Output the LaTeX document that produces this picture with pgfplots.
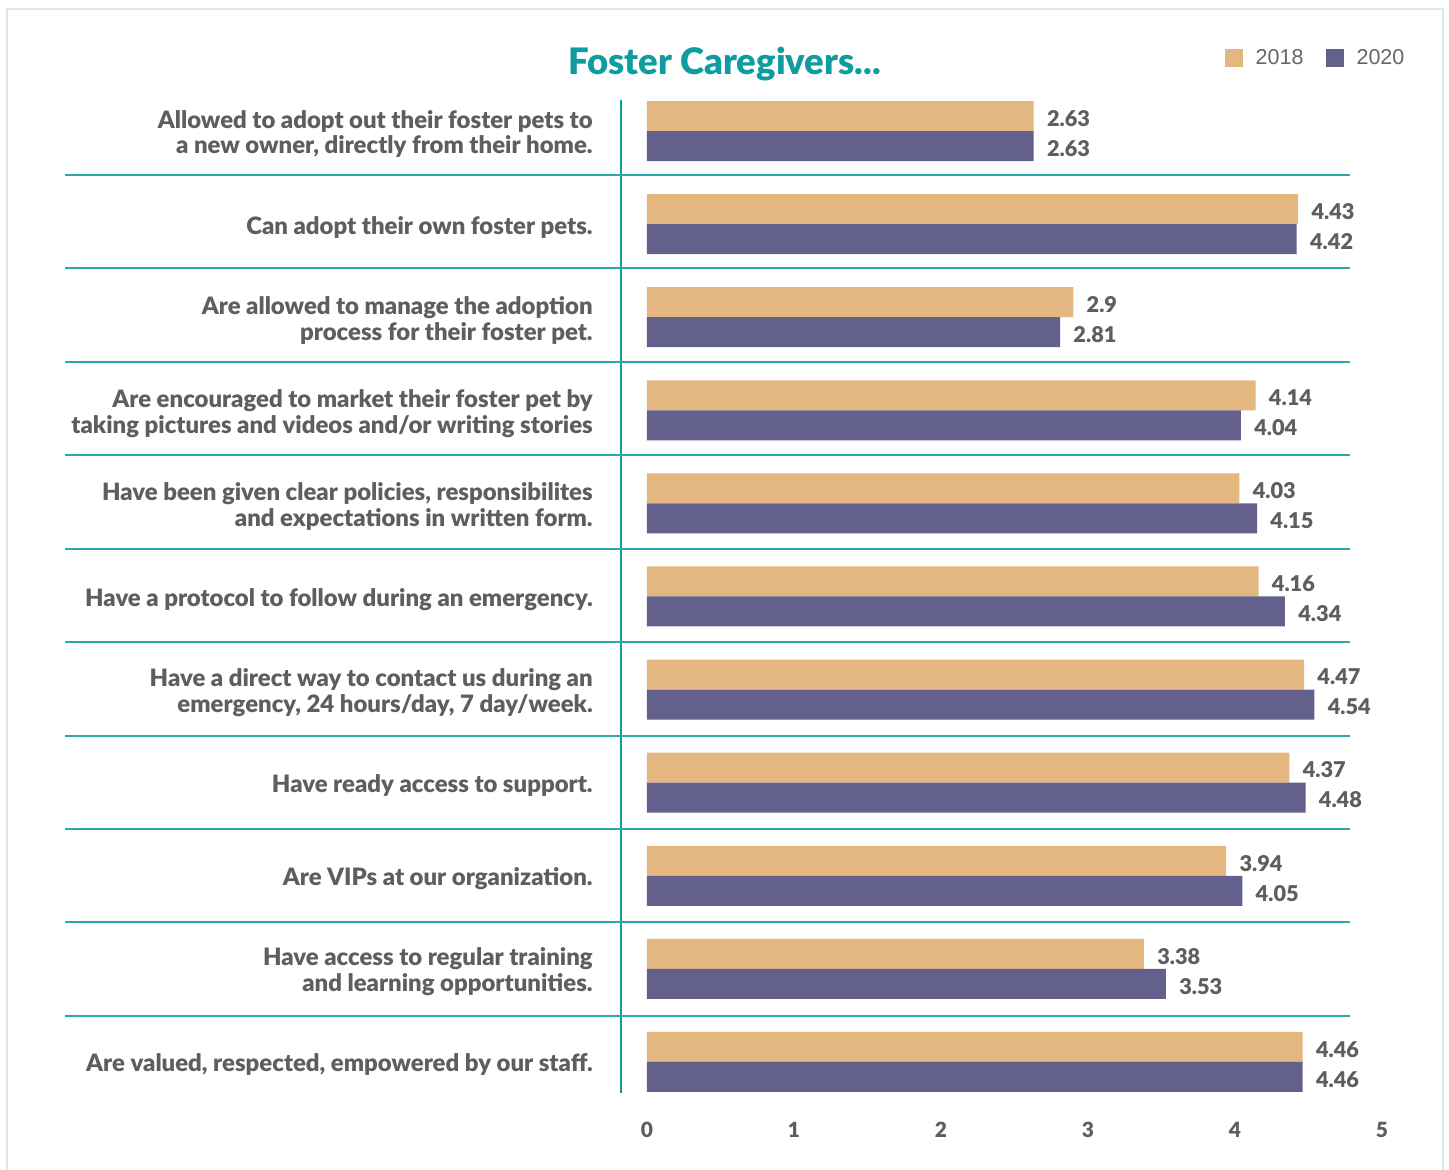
\documentclass[border=0pt]{standalone}
\usepackage{pgfplots}
\pgfplotsset{compat=1.18}
\usepackage{fontspec}
\setmainfont{Lato}[BoldFont={Lato Black}]
\newfontfamily\legfont{Liberation Sans}
\definecolor{tan18}{HTML}{E3B77F}
\definecolor{pur20}{HTML}{63608D}
\definecolor{teal1}{HTML}{0E9CA0}
\definecolor{sepc}{HTML}{2AA8AC}
\definecolor{txt}{HTML}{5C5E60}
\begin{document}
\begin{tikzpicture}
\useasboundingbox (-310.5bp,-38.5bp) rectangle (414bp,546.5bp);
\draw[black!10, line width=0.8bp] (-307bp,-45bp) rectangle (411bp,542bp);
\begin{axis}[
  at={(0,0)}, anchor=south west,
  scale only axis, width=380.5bp, height=496.5bp,
  xmin=-0.1769, xmax=5, ymin=0.6667, ymax=11.3333,
  xbar, bar width=15bp,
  axis line style={draw=none}, major tick length=0pt,
  xtick={0,1,2,3,4,5}, ytick={1,2,3,4,5,6,7,8,9,10,11},
  /pgf/number format/assume math mode=true,
  xticklabel style={font=\fontsize{10.5}{12}\selectfont\bfseries, text=txt, anchor=center, yshift=-18.5bp},
  yticklabel style={font=\fontsize{12}{13}\selectfont\bfseries, text=txt, align=right, anchor=east, inner sep=0pt, xshift=-14bp, yshift=-1.5bp},
  yticklabels={
    {Are valued, respected, empowered by our staff.},
    {Have access to regular training\\and learning opportunities.},
    {Are VIPs at our organization.},
    {Have ready access to support.},
    {Have a direct way to contact us during an\\emergency, 24 hours/day, 7 day/week.},
    {Have a protocol to follow during an emergency.},
    {Have been given clear policies, responsibilites\\and expectations in written form.},
    {Are encouraged to market their foster pet by\\taking pictures and videos and/or writing stories},
    {Are allowed to manage the adoption\\process for their foster pet.},
    {Can adopt their own foster pets.},
    {Allowed to adopt out their foster pets to\\a new owner, directly from their home.}
  },
  nodes near coords,
  nodes near coords style={font=\fontsize{10.9}{12}\selectfont\bfseries, text=txt, anchor=west, inner sep=0pt, xshift=6.5bp, yshift=-1.2bp},
  clip=false,
  legend columns=2,
  legend style={at={(0.914,1.042)}, anchor=center, draw=none, fill=none,
    font=\legfont\fontsize{10.8}{12}\selectfont, text=black!60,
    /tikz/every odd column/.append style={column sep=4.5bp},
    /tikz/every even column/.append style={column sep=9bp}},
  legend image code/.code={\fill[#1] (0bp,-4.5bp) rectangle (9bp,4.5bp);},
]
\addplot[fill=tan18, draw=none, bar shift=7.5bp] coordinates {
  (4.46,1) (3.38,2) (3.94,3) (4.37,4) (4.47,5) (4.16,6) (4.03,7) (4.14,8) (2.9,9) (4.43,10) (2.63,11)};
\addlegendentry{2018}
\addplot[fill=pur20, draw=none, bar shift=-7.5bp] coordinates {
  (4.46,1) (3.53,2) (4.05,3) (4.48,4) (4.54,5) (4.34,6) (4.15,7) (4.04,8) (2.81,9) (4.42,10) (2.63,11)};
\addlegendentry{2020}
\draw[teal1, line width=0.8bp] (rel axis cs:0,0) -- (rel axis cs:0,1);
\pgfplotsinvokeforeach{1.493,2.503,3.502,4.501,5.511,6.51,7.52,8.519,9.529,10.528}{
  \draw[sepc, line width=1bp] (axis cs:-3.96,#1) -- (axis cs:4.782,#1);
}
\end{axis}
\node[font=\fontsize{18.3}{21}\selectfont\bfseries, text=teal1] at (51.75bp,514.5bp) {Foster Caregivers...};
\end{tikzpicture}
\end{document}
